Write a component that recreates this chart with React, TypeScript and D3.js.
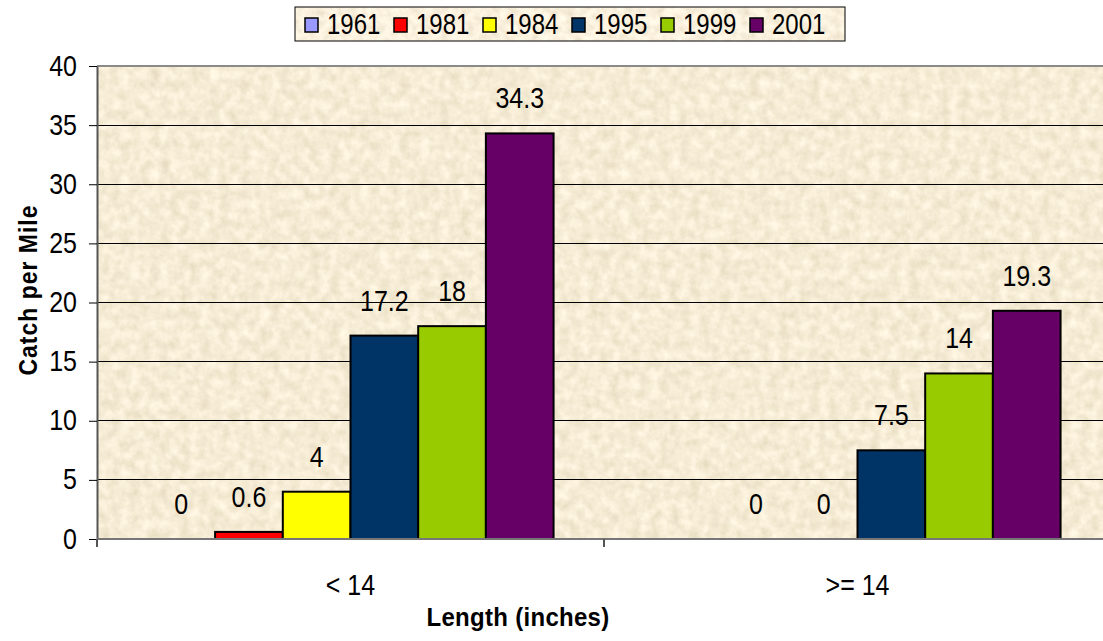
import React, { useRef, useEffect } from 'react'
import * as d3 from 'd3'

const categories = ['< 14', '>= 14']
const years = ['1961', '1981', '1984', '1995', '1999', '2001']
const colors = ['#9999FF', '#FF0000', '#FFFF00', '#003366', '#99CC00', '#660066']
// catch per mile, one array per length class (null = no bar / no label)
const lessThan14 = [0, 0.6, 4, 17.2, 18, 34.3]
const atLeast14 = [null, 0, 0, 7.5, 14, 19.3]
const yTicks = [0, 5, 10, 15, 20, 25, 30, 35, 40]

const W = 1103
const H = 641

export default function App() {
  const ref = useRef<HTMLDivElement>(null)

  useEffect(() => {
    const el = ref.current
    if (!el) return
    d3.select(el).selectAll('*').remove()

    const font = 'Arial, "Liberation Sans", sans-serif'
    const stretch = 1.15 // the original text is a bit taller than wide

    const svg = d3.select(el).append('svg')
      .attr('width', W).attr('height', H)
      .style('display', 'block')
      .style('font-family', font)

    // parchment texture
    const defs = svg.append('defs')
    const mkFilter = (id: string, freq: number, seed: number, lift: number) => {
      const f = defs.append('filter').attr('id', id)
        .attr('x', 0).attr('y', 0).attr('width', 1).attr('height', 1)
      f.append('feTurbulence').attr('type', 'fractalNoise')
        .attr('baseFrequency', freq).attr('numOctaves', 4).attr('seed', seed)
        .attr('result', 'n')
      f.append('feColorMatrix').attr('in', 'n').attr('type', 'matrix')
        .attr('values', `0.3 0 0 0 ${0.77 + lift}  0.3 0 0 0 ${0.69 + lift}  0.34 0 0 0 ${0.50 + lift * 1.5}  0 0 0 0 1`)
        .attr('result', 'c')
      f.append('feComposite').attr('in', 'c').attr('in2', 'SourceGraphic').attr('operator', 'in')
    }
    mkFilter('tex', 0.1, 3, 0)
    mkFilter('tex2', 0.12, 7, 0.04)

    const m = { left: 97, top: 66, right: 1111, bottom: 539 }

    const y = d3.scaleLinear().domain([0, 40]).range([m.bottom, m.top])
    const x0 = d3.scaleBand().domain(categories).range([m.left, m.right]).padding(0)
    const x1 = d3.scaleBand().domain(years).range([0, x0.bandwidth()])
      .paddingInner(0).paddingOuter(0.745)

    // plot background
    svg.append('rect').attr('x', m.left).attr('y', m.top)
      .attr('width', m.right - m.left).attr('height', m.bottom - m.top)
      .attr('fill', '#EAD6AE').attr('filter', 'url(#tex)')

    // gridlines
    svg.append('g').selectAll('line').data(yTicks.filter(d => d > 0 && d < 40)).join('line')
      .attr('x1', m.left).attr('x2', m.right)
      .attr('y1', d => y(d)).attr('y2', d => y(d))
      .attr('stroke', '#000').attr('stroke-width', 1)
      .attr('shape-rendering', 'crispEdges')

    // top border
    svg.append('line').attr('x1', m.left).attr('x2', m.right)
      .attr('y1', m.top).attr('y2', m.top)
      .attr('stroke', '#8a8a8a').attr('stroke-width', 2)

    // bars
    const series = [lessThan14, atLeast14]
    const bars = categories.flatMap((c, ci) =>
      years.map((yr, yi) => ({ c, yr, yi, v: series[ci][yi] })))

    svg.append('g').selectAll('rect').data(bars.filter(d => d.v != null && d.v > 0)).join('rect')
      .attr('x', d => (x0(d.c) as number) + (x1(d.yr) as number))
      .attr('y', d => y(d.v as number))
      .attr('width', x1.bandwidth())
      .attr('height', d => y(0) - y(d.v as number))
      .attr('fill', d => colors[d.yi])
      .attr('stroke', '#000').attr('stroke-width', 2)

    // value labels
    svg.append('g').selectAll('text').data(bars.filter(d => d.v != null)).join('text')
      .attr('transform', d => {
        const cx = (x0(d.c) as number) + (x1(d.yr) as number) + x1.bandwidth() / 2
        return `translate(${cx},${y(d.v as number) - 25}) scale(1,${stretch})`
      })
      .attr('text-anchor', 'middle')
      .attr('font-size', 25)
      .attr('fill', '#000')
      .text(d => String(d.v))

    // axes
    const yAxis = d3.axisLeft(y).tickValues(yTicks).tickSize(8).tickSizeOuter(0)
    const gy = svg.append('g').attr('transform', `translate(${m.left},0)`).call(yAxis)
    gy.select('.domain').attr('stroke', '#555').attr('stroke-width', 2)
    gy.selectAll('.tick line').attr('stroke', '#000')
    gy.selectAll('.tick text')
      .attr('font-size', 25).attr('font-family', font).attr('fill', '#000')
      .attr('x', -20).attr('dy', 0)
      .attr('transform', `translate(0,9) scale(1,${stretch})`)

    svg.append('line').attr('x1', m.left).attr('x2', m.right)
      .attr('y1', m.bottom).attr('y2', m.bottom)
      .attr('stroke', '#777').attr('stroke-width', 2)
    // category separators
    svg.append('g').selectAll('line').data(categories).join('line')
      .attr('x1', d => x0(d) as number).attr('x2', d => x0(d) as number)
      .attr('y1', m.bottom).attr('y2', m.bottom + 8)
      .attr('stroke', '#555').attr('stroke-width', 2)

    svg.append('g').selectAll('text').data(categories).join('text')
      .attr('transform', d => `translate(${(x0(d) as number) + x0.bandwidth() / 2},595) scale(1,${stretch})`)
      .attr('text-anchor', 'middle').attr('font-size', 25).attr('fill', '#000')
      .text(d => d)

    // axis titles
    svg.append('text')
      .attr('transform', `translate(518,626) scale(1,1.1)`)
      .attr('text-anchor', 'middle').attr('font-size', 24).attr('font-weight', 'bold')
      .attr('letter-spacing', 0.3)
      .text('Length (inches)')
    svg.append('text')
      .attr('transform', `translate(37,290) rotate(-90) scale(1,1.1)`)
      .attr('text-anchor', 'middle').attr('font-size', 23).attr('font-weight', 'bold')
      .attr('letter-spacing', 1)
      .text('Catch per Mile')

    // legend
    const lg = svg.append('g')
    lg.append('rect').attr('x', 295).attr('y', 7).attr('width', 550).attr('height', 34)
      .attr('fill', '#F6EAD0').attr('filter', 'url(#tex2)')
    lg.append('rect').attr('x', 295).attr('y', 7).attr('width', 550).attr('height', 34)
      .attr('fill', 'none').attr('stroke', '#000').attr('stroke-width', 1)
    const li = d3.scaleBand().domain(years).range([305, 839]).padding(0)
    const item = lg.selectAll('g.item').data(years).join('g')
      .attr('transform', d => `translate(${li(d)},0)`)
    item.append('rect').attr('x', 0).attr('y', 18).attr('width', 13).attr('height', 14)
      .attr('fill', (d, i) => colors[i]).attr('stroke', '#000').attr('stroke-width', 1.5)
    item.append('text')
      .attr('transform', `translate(22,34) scale(1,1.2)`)
      .attr('font-size', 24).attr('fill', '#000')
      .text(d => d)
  }, [])

  return <div ref={ref} style={{ position: 'fixed', left: 0, top: 0, width: W, height: H, background: '#fff' }} />
}
